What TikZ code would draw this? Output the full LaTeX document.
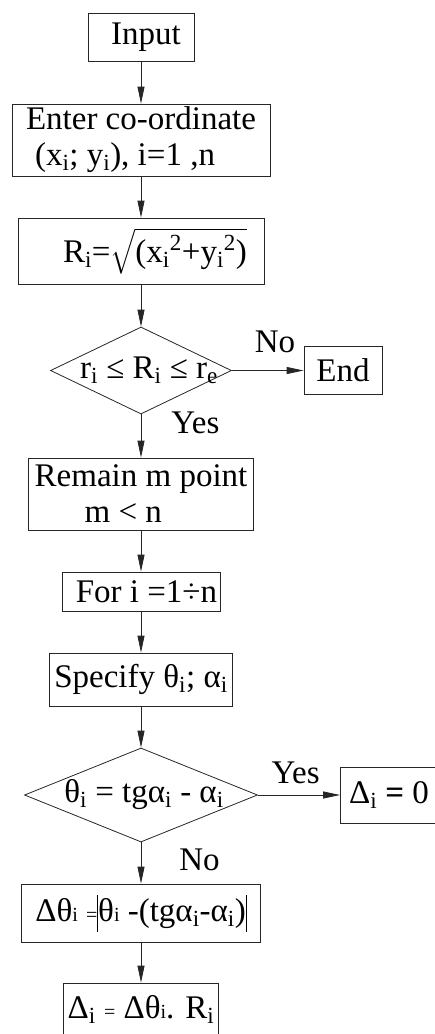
\RequirePackage{fix-cm}
\documentclass[tikz,border=0pt]{standalone}
\usepackage{amsmath}
\usepackage{fontspec}
\setmainfont{Liberation Serif}
\usetikzlibrary{shapes, arrows.meta, positioning}
\tikzstyle{process}  = [rectangle, draw=black!85, line width=0.8pt, inner sep=0pt, text centered]
\tikzstyle{decision} = [diamond, draw=black!85, line width=0.8pt, inner sep=0pt]
\tikzstyle{arrow}    = [line width=0.8pt, draw=black!85, ->, >={Triangle[length=17pt, width=7pt]}]
\newcommand{\sml}[1]{{\fontsize{20}{20}\selectfont #1}}
\newcommand{\absbar}{\vrule width 0.8pt height 27pt depth 10pt}

\begin{document}
\begin{tikzpicture}[x=1pt, y=1pt, inner sep=0pt, font=\fontsize{33}{36}\selectfont]
        \useasboundingbox (0,0) rectangle (435,-1034);
        \node (input)   [process, minimum width=106pt, minimum height=48pt] at (141,-37) {\hspace*{10pt}Input};
        \node (enter)   [process, node distance=103pt, below of=input, minimum width=258pt, minimum height=72pt, align=left]
            {Enter co-ordinate\\\hspace*{9pt}(x\textsubscript{i}; y\textsubscript{i}), i=1 ,n};
        \node (radius)  [process, node distance=111pt, below of=enter, minimum width=246pt, minimum height=66pt]
            {\hspace*{28pt}R\textsubscript{i}=$\sqrt{\mbox{(x\textsubscript{i}\textsuperscript{2}+y\textsubscript{i}\textsuperscript{2})}}$};
        \node (check)   [decision, node distance=119.5pt, below of=radius, minimum width=181pt, minimum height=87pt]
            {\makebox[0pt]{\hspace*{16pt}r\textsubscript{i} ≤ R\textsubscript{i} ≤ r\textsubscript{e}}};
        \node (stop)    [process, node distance=202pt, right of=check, minimum width=78pt, minimum height=48pt] {End};
        \node (remain)  [process, node distance=123.5pt, below of=check, minimum width=225pt, minimum height=72pt, align=left]
            {Remain m point\\\hspace*{50pt}m < n};
        \node (loop)    [process, node distance=97.5pt, below of=remain, minimum width=158pt, minimum height=39pt]
            {\hspace*{11pt}For i =1÷n};
        \node (specify) [process, node distance=88pt, below of=loop, minimum width=183pt, minimum height=53pt]
            {Specify θ\textsubscript{i}; α\textsubscript{i}};
        \node (test)    [decision, node distance=115.5pt, below of=specify, minimum width=233pt, minimum height=94pt]
            {\makebox[0pt]{\hspace*{6pt}θ\textsubscript{i} = tgα\textsubscript{i} - α\textsubscript{i}}};
        \node (zero)    [process, node distance=248pt, right of=test, minimum width=97pt, minimum height=56pt]
            {Δ\textsubscript{i} \textbf{=} 0};
        \node (dtheta)  [process, node distance=118pt, below of=test, minimum width=239pt, minimum height=58pt]
            {Δθ\sml{i} \sml{=}\absbar θ\sml{i} -(tgα\textsubscript{i}-α\textsubscript{i})\absbar};
        \node (delta)   [process, node distance=96pt, below of=dtheta, minimum width=155pt, minimum height=52pt]
            {Δ\textsubscript{i} \sml{=} Δθ\sml{i}. R\textsubscript{i}};

        \draw [arrow] (input)   -- (enter);
        \draw [arrow] (enter)   -- (radius);
        \draw [arrow] (radius)  -- (check);
        \draw [arrow] (check)   -- node[pos=0.6, above=17pt] {No} (stop);
        \draw [arrow] (check)   -- node[pos=0.2, right=30pt] {Yes} (remain);
        \draw [arrow] (remain)  -- (loop);
        \draw [arrow] (loop)    -- (specify);
        \draw [arrow] (specify) -- (test);
        \draw [arrow] (test)    -- node[pos=0.46, above=11pt] {Yes} (zero);
        \draw [arrow] (test)    -- node[pos=0.43, right=38pt] {No} (dtheta);
        \draw [arrow] (dtheta)  -- (delta);
    \end{tikzpicture}
\end{document}
